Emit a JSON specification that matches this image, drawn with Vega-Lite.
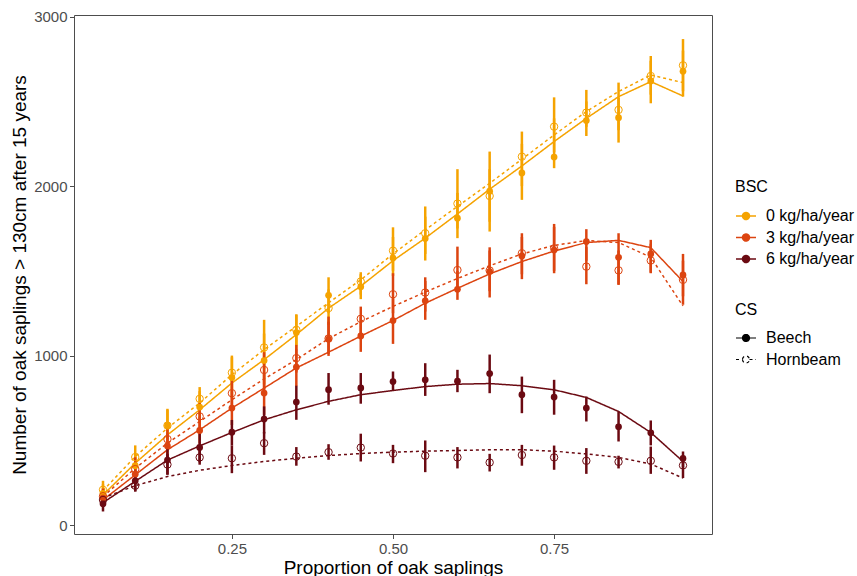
{
  "$schema": "https://vega.github.io/schema/vega-lite/v6.json",
  "width": 638,
  "height": 519,
  "autosize": {"type": "none"},
  "padding": {"left": 74, "top": 15, "right": 145, "bottom": 42},
  "background": "white",
  "config": {
    "font": "Liberation Sans",
    "view": {"stroke": "#4d4d4d", "strokeWidth": 1},
    "axis": {"grid": false, "domain": false, "tickColor": "#4d4d4d", "tickSize": 4.5, "labelColor": "#4d4d4d", "labelFontSize": 15, "titleFontSize": 19, "titleFontWeight": "normal", "titleColor": "black", "labelPadding": 2.5},
    "legend": {"labelFontSize": 16, "titleFontSize": 16, "titleFontWeight": "normal", "labelColor": "black", "titleColor": "black", "titlePadding": 10, "rowPadding": 2.5, "labelOffset": 9}
  },
  "datasets": {
    "d": [
      {"x":0.05,"BSC":"0 kg/ha/year","CS":"Beech","mean":187,"lo":140,"hi":240,"fit":177},
      {"x":0.10,"BSC":"0 kg/ha/year","CS":"Beech","mean":350,"lo":290,"hi":420,"fit":365},
      {"x":0.15,"BSC":"0 kg/ha/year","CS":"Beech","mean":587,"lo":500,"hi":680,"fit":532},
      {"x":0.20,"BSC":"0 kg/ha/year","CS":"Beech","mean":696,"lo":610,"hi":790,"fit":680},
      {"x":0.25,"BSC":"0 kg/ha/year","CS":"Beech","mean":870,"lo":750,"hi":990,"fit":838},
      {"x":0.30,"BSC":"0 kg/ha/year","CS":"Beech","mean":971,"lo":830,"hi":1130,"fit":976},
      {"x":0.35,"BSC":"0 kg/ha/year","CS":"Beech","mean":1136,"lo":1040,"hi":1244,"fit":1124},
      {"x":0.40,"BSC":"0 kg/ha/year","CS":"Beech","mean":1356,"lo":1250,"hi":1462,"fit":1280},
      {"x":0.45,"BSC":"0 kg/ha/year","CS":"Beech","mean":1406,"lo":1333,"hi":1480,"fit":1410},
      {"x":0.50,"BSC":"0 kg/ha/year","CS":"Beech","mean":1576,"lo":1470,"hi":1700,"fit":1560},
      {"x":0.55,"BSC":"0 kg/ha/year","CS":"Beech","mean":1691,"lo":1561,"hi":1820,"fit":1693},
      {"x":0.60,"BSC":"0 kg/ha/year","CS":"Beech","mean":1811,"lo":1693,"hi":1960,"fit":1836},
      {"x":0.65,"BSC":"0 kg/ha/year","CS":"Beech","mean":1970,"lo":1790,"hi":2204,"fit":1982},
      {"x":0.70,"BSC":"0 kg/ha/year","CS":"Beech","mean":2078,"lo":1919,"hi":2250,"fit":2119},
      {"x":0.75,"BSC":"0 kg/ha/year","CS":"Beech","mean":2172,"lo":2106,"hi":2400,"fit":2263},
      {"x":0.80,"BSC":"0 kg/ha/year","CS":"Beech","mean":2387,"lo":2296,"hi":2500,"fit":2400},
      {"x":0.85,"BSC":"0 kg/ha/year","CS":"Beech","mean":2404,"lo":2257,"hi":2520,"fit":2528},
      {"x":0.90,"BSC":"0 kg/ha/year","CS":"Beech","mean":2621,"lo":2489,"hi":2740,"fit":2617},
      {"x":0.95,"BSC":"0 kg/ha/year","CS":"Beech","mean":2678,"lo":2528,"hi":2800,"fit":2532},
      {"x":0.05,"BSC":"0 kg/ha/year","CS":"Hornbeam","mean":208,"lo":150,"hi":261,"fit":203},
      {"x":0.10,"BSC":"0 kg/ha/year","CS":"Hornbeam","mean":401,"lo":320,"hi":470,"fit":404},
      {"x":0.15,"BSC":"0 kg/ha/year","CS":"Hornbeam","mean":587,"lo":510,"hi":686,"fit":572},
      {"x":0.20,"BSC":"0 kg/ha/year","CS":"Hornbeam","mean":745,"lo":650,"hi":814,"fit":720},
      {"x":0.25,"BSC":"0 kg/ha/year","CS":"Hornbeam","mean":899,"lo":790,"hi":1000,"fit":887},
      {"x":0.30,"BSC":"0 kg/ha/year","CS":"Hornbeam","mean":1048,"lo":920,"hi":1211,"fit":1035},
      {"x":0.35,"BSC":"0 kg/ha/year","CS":"Hornbeam","mean":1152,"lo":1060,"hi":1240,"fit":1173},
      {"x":0.40,"BSC":"0 kg/ha/year","CS":"Hornbeam","mean":1280,"lo":1181,"hi":1390,"fit":1311},
      {"x":0.45,"BSC":"0 kg/ha/year","CS":"Hornbeam","mean":1437,"lo":1360,"hi":1492,"fit":1447},
      {"x":0.50,"BSC":"0 kg/ha/year","CS":"Hornbeam","mean":1619,"lo":1500,"hi":1757,"fit":1600},
      {"x":0.55,"BSC":"0 kg/ha/year","CS":"Hornbeam","mean":1722,"lo":1600,"hi":1880,"fit":1742},
      {"x":0.60,"BSC":"0 kg/ha/year","CS":"Hornbeam","mean":1897,"lo":1750,"hi":2100,"fit":1880},
      {"x":0.65,"BSC":"0 kg/ha/year","CS":"Hornbeam","mean":1942,"lo":1732,"hi":2100,"fit":2017},
      {"x":0.70,"BSC":"0 kg/ha/year","CS":"Hornbeam","mean":2174,"lo":2000,"hi":2322,"fit":2159},
      {"x":0.75,"BSC":"0 kg/ha/year","CS":"Hornbeam","mean":2351,"lo":2200,"hi":2524,"fit":2302},
      {"x":0.80,"BSC":"0 kg/ha/year","CS":"Hornbeam","mean":2434,"lo":2350,"hi":2568,"fit":2440},
      {"x":0.85,"BSC":"0 kg/ha/year","CS":"Hornbeam","mean":2450,"lo":2330,"hi":2611,"fit":2558},
      {"x":0.90,"BSC":"0 kg/ha/year","CS":"Hornbeam","mean":2650,"lo":2540,"hi":2768,"fit":2656},
      {"x":0.95,"BSC":"0 kg/ha/year","CS":"Hornbeam","mean":2713,"lo":2560,"hi":2868,"fit":2611},
      {"x":0.05,"BSC":"3 kg/ha/year","CS":"Beech","mean":160,"lo":120,"hi":200,"fit":148},
      {"x":0.10,"BSC":"3 kg/ha/year","CS":"Beech","mean":300,"lo":240,"hi":360,"fit":296},
      {"x":0.15,"BSC":"3 kg/ha/year","CS":"Beech","mean":467,"lo":400,"hi":540,"fit":444},
      {"x":0.20,"BSC":"3 kg/ha/year","CS":"Beech","mean":558,"lo":480,"hi":640,"fit":562},
      {"x":0.25,"BSC":"3 kg/ha/year","CS":"Beech","mean":690,"lo":590,"hi":790,"fit":690},
      {"x":0.30,"BSC":"3 kg/ha/year","CS":"Beech","mean":779,"lo":650,"hi":900,"fit":808},
      {"x":0.35,"BSC":"3 kg/ha/year","CS":"Beech","mean":932,"lo":820,"hi":1040,"fit":927},
      {"x":0.40,"BSC":"3 kg/ha/year","CS":"Beech","mean":1097,"lo":998,"hi":1200,"fit":1020},
      {"x":0.45,"BSC":"3 kg/ha/year","CS":"Beech","mean":1116,"lo":1022,"hi":1230,"fit":1115},
      {"x":0.50,"BSC":"3 kg/ha/year","CS":"Beech","mean":1207,"lo":1069,"hi":1340,"fit":1207},
      {"x":0.55,"BSC":"3 kg/ha/year","CS":"Beech","mean":1323,"lo":1211,"hi":1440,"fit":1309},
      {"x":0.60,"BSC":"3 kg/ha/year","CS":"Beech","mean":1391,"lo":1329,"hi":1500,"fit":1397},
      {"x":0.65,"BSC":"3 kg/ha/year","CS":"Beech","mean":1496,"lo":1343,"hi":1639,"fit":1482},
      {"x":0.70,"BSC":"3 kg/ha/year","CS":"Beech","mean":1588,"lo":1451,"hi":1722,"fit":1555},
      {"x":0.75,"BSC":"3 kg/ha/year","CS":"Beech","mean":1623,"lo":1486,"hi":1777,"fit":1617},
      {"x":0.80,"BSC":"3 kg/ha/year","CS":"Beech","mean":1673,"lo":1560,"hi":1746,"fit":1667},
      {"x":0.85,"BSC":"3 kg/ha/year","CS":"Beech","mean":1580,"lo":1417,"hi":1722,"fit":1680},
      {"x":0.90,"BSC":"3 kg/ha/year","CS":"Beech","mean":1600,"lo":1486,"hi":1683,"fit":1637},
      {"x":0.95,"BSC":"3 kg/ha/year","CS":"Beech","mean":1476,"lo":1350,"hi":1600,"fit":1437},
      {"x":0.05,"BSC":"3 kg/ha/year","CS":"Hornbeam","mean":170,"lo":130,"hi":215,"fit":168},
      {"x":0.10,"BSC":"3 kg/ha/year","CS":"Hornbeam","mean":330,"lo":260,"hi":400,"fit":335},
      {"x":0.15,"BSC":"3 kg/ha/year","CS":"Hornbeam","mean":507,"lo":440,"hi":580,"fit":483},
      {"x":0.20,"BSC":"3 kg/ha/year","CS":"Hornbeam","mean":641,"lo":560,"hi":720,"fit":611},
      {"x":0.25,"BSC":"3 kg/ha/year","CS":"Hornbeam","mean":778,"lo":690,"hi":870,"fit":739},
      {"x":0.30,"BSC":"3 kg/ha/year","CS":"Hornbeam","mean":915,"lo":800,"hi":1020,"fit":862},
      {"x":0.35,"BSC":"3 kg/ha/year","CS":"Hornbeam","mean":985,"lo":900,"hi":1063,"fit":976},
      {"x":0.40,"BSC":"3 kg/ha/year","CS":"Hornbeam","mean":1101,"lo":1010,"hi":1230,"fit":1100},
      {"x":0.45,"BSC":"3 kg/ha/year","CS":"Hornbeam","mean":1217,"lo":1120,"hi":1289,"fit":1200},
      {"x":0.50,"BSC":"3 kg/ha/year","CS":"Hornbeam","mean":1362,"lo":1250,"hi":1486,"fit":1290},
      {"x":0.55,"BSC":"3 kg/ha/year","CS":"Hornbeam","mean":1372,"lo":1260,"hi":1462,"fit":1375},
      {"x":0.60,"BSC":"3 kg/ha/year","CS":"Hornbeam","mean":1505,"lo":1400,"hi":1643,"fit":1455},
      {"x":0.65,"BSC":"3 kg/ha/year","CS":"Hornbeam","mean":1502,"lo":1380,"hi":1620,"fit":1530},
      {"x":0.70,"BSC":"3 kg/ha/year","CS":"Hornbeam","mean":1604,"lo":1480,"hi":1700,"fit":1600},
      {"x":0.75,"BSC":"3 kg/ha/year","CS":"Hornbeam","mean":1633,"lo":1500,"hi":1760,"fit":1650},
      {"x":0.80,"BSC":"3 kg/ha/year","CS":"Hornbeam","mean":1525,"lo":1421,"hi":1640,"fit":1679},
      {"x":0.85,"BSC":"3 kg/ha/year","CS":"Hornbeam","mean":1503,"lo":1420,"hi":1620,"fit":1667},
      {"x":0.90,"BSC":"3 kg/ha/year","CS":"Hornbeam","mean":1561,"lo":1490,"hi":1660,"fit":1580},
      {"x":0.95,"BSC":"3 kg/ha/year","CS":"Hornbeam","mean":1447,"lo":1300,"hi":1560,"fit":1293},
      {"x":0.05,"BSC":"6 kg/ha/year","CS":"Beech","mean":126,"lo":80,"hi":170,"fit":132},
      {"x":0.10,"BSC":"6 kg/ha/year","CS":"Beech","mean":261,"lo":198,"hi":320,"fit":258},
      {"x":0.15,"BSC":"6 kg/ha/year","CS":"Beech","mean":383,"lo":297,"hi":460,"fit":383},
      {"x":0.20,"BSC":"6 kg/ha/year","CS":"Beech","mean":458,"lo":370,"hi":540,"fit":467},
      {"x":0.25,"BSC":"6 kg/ha/year","CS":"Beech","mean":548,"lo":470,"hi":620,"fit":546},
      {"x":0.30,"BSC":"6 kg/ha/year","CS":"Beech","mean":625,"lo":540,"hi":700,"fit":621},
      {"x":0.35,"BSC":"6 kg/ha/year","CS":"Beech","mean":726,"lo":621,"hi":822,"fit":680},
      {"x":0.40,"BSC":"6 kg/ha/year","CS":"Beech","mean":799,"lo":710,"hi":897,"fit":730},
      {"x":0.45,"BSC":"6 kg/ha/year","CS":"Beech","mean":809,"lo":716,"hi":897,"fit":769},
      {"x":0.50,"BSC":"6 kg/ha/year","CS":"Beech","mean":847,"lo":792,"hi":906,"fit":794},
      {"x":0.55,"BSC":"6 kg/ha/year","CS":"Beech","mean":857,"lo":762,"hi":955,"fit":817},
      {"x":0.60,"BSC":"6 kg/ha/year","CS":"Beech","mean":849,"lo":784,"hi":916,"fit":831},
      {"x":0.65,"BSC":"6 kg/ha/year","CS":"Beech","mean":894,"lo":778,"hi":1006,"fit":835},
      {"x":0.70,"BSC":"6 kg/ha/year","CS":"Beech","mean":769,"lo":660,"hi":876,"fit":822},
      {"x":0.75,"BSC":"6 kg/ha/year","CS":"Beech","mean":755,"lo":651,"hi":857,"fit":798},
      {"x":0.80,"BSC":"6 kg/ha/year","CS":"Beech","mean":690,"lo":611,"hi":758,"fit":753},
      {"x":0.85,"BSC":"6 kg/ha/year","CS":"Beech","mean":580,"lo":493,"hi":670,"fit":670},
      {"x":0.90,"BSC":"6 kg/ha/year","CS":"Beech","mean":544,"lo":470,"hi":617,"fit":546},
      {"x":0.95,"BSC":"6 kg/ha/year","CS":"Beech","mean":393,"lo":340,"hi":434,"fit":375},
      {"x":0.05,"BSC":"6 kg/ha/year","CS":"Hornbeam","mean":148,"lo":110,"hi":185,"fit":160},
      {"x":0.10,"BSC":"6 kg/ha/year","CS":"Hornbeam","mean":232,"lo":198,"hi":270,"fit":232},
      {"x":0.15,"BSC":"6 kg/ha/year","CS":"Hornbeam","mean":357,"lo":297,"hi":420,"fit":286},
      {"x":0.20,"BSC":"6 kg/ha/year","CS":"Hornbeam","mean":399,"lo":356,"hi":450,"fit":323},
      {"x":0.25,"BSC":"6 kg/ha/year","CS":"Hornbeam","mean":394,"lo":306,"hi":470,"fit":351},
      {"x":0.30,"BSC":"6 kg/ha/year","CS":"Hornbeam","mean":483,"lo":414,"hi":550,"fit":375},
      {"x":0.35,"BSC":"6 kg/ha/year","CS":"Hornbeam","mean":404,"lo":350,"hi":460,"fit":394},
      {"x":0.40,"BSC":"6 kg/ha/year","CS":"Hornbeam","mean":430,"lo":385,"hi":477,"fit":410},
      {"x":0.45,"BSC":"6 kg/ha/year","CS":"Hornbeam","mean":457,"lo":375,"hi":539,"fit":422},
      {"x":0.50,"BSC":"6 kg/ha/year","CS":"Hornbeam","mean":422,"lo":365,"hi":473,"fit":430},
      {"x":0.55,"BSC":"6 kg/ha/year","CS":"Hornbeam","mean":409,"lo":312,"hi":499,"fit":436},
      {"x":0.60,"BSC":"6 kg/ha/year","CS":"Hornbeam","mean":399,"lo":334,"hi":460,"fit":440},
      {"x":0.65,"BSC":"6 kg/ha/year","CS":"Hornbeam","mean":369,"lo":316,"hi":420,"fit":444},
      {"x":0.70,"BSC":"6 kg/ha/year","CS":"Hornbeam","mean":413,"lo":350,"hi":473,"fit":444},
      {"x":0.75,"BSC":"6 kg/ha/year","CS":"Hornbeam","mean":399,"lo":326,"hi":469,"fit":436},
      {"x":0.80,"BSC":"6 kg/ha/year","CS":"Hornbeam","mean":379,"lo":302,"hi":454,"fit":420},
      {"x":0.85,"BSC":"6 kg/ha/year","CS":"Hornbeam","mean":373,"lo":334,"hi":409,"fit":399},
      {"x":0.90,"BSC":"6 kg/ha/year","CS":"Hornbeam","mean":379,"lo":302,"hi":463,"fit":360},
      {"x":0.95,"BSC":"6 kg/ha/year","CS":"Hornbeam","mean":352,"lo":277,"hi":385,"fit":277}
    ]
  },
  "data": {"name": "d"},
  "encoding": {
    "x": {"field": "x", "type": "quantitative", "scale": {"domain": [0.005, 0.995], "nice": false, "zero": false},
      "axis": {"values": [0.25, 0.5, 0.75], "format": ".2f", "title": "Proportion of oak saplings", "titlePadding": 2}},
    "color": {"field": "BSC", "type": "nominal",
      "scale": {"domain": ["0 kg/ha/year", "3 kg/ha/year", "6 kg/ha/year"], "range": ["#F5A300", "#DC4410", "#6B0A12"]},
      "legend": {"title": "BSC", "orient": "none", "legendX": 661, "legendY": 164, "titlePadding": 10,
        "symbolType": "M-1,0H-0.35M0.35,0H1M-0.35,0A0.35,0.35 0 1,0 0.35,0A0.35,0.35 0 1,0 -0.35,0Z",
        "symbolSize": 400, "symbolStrokeWidth": 1.5,
        "encode": {"symbols": {"update": {"fill": {"scale": "color", "field": "value"}, "stroke": {"scale": "color", "field": "value"}, "opacity": {"value": 1}, "strokeDash": {"value": [1, 0]}}}}}}
  },
  "layer": [
    {
      "mark": {"type": "line", "strokeWidth": 1.5},
      "encoding": {
        "y": {"field": "fit", "type": "quantitative", "scale": {"domain": [-53, 3010], "nice": false, "zero": false},
          "axis": {"values": [0, 1000, 2000, 3000], "format": "d", "title": "Number of oak saplings > 130cm after 15 years", "titlePadding": 4}},
        "strokeDash": {"field": "CS", "type": "nominal",
          "scale": {"domain": ["Beech", "Hornbeam"], "range": [[1, 0], [3, 3]]},
          "legend": {"title": "CS", "orient": "none", "legendX": 661, "legendY": 287, "titlePadding": 9,
            "symbolType": "M-1,0H-0.35M0.35,0H1M-0.35,0A0.35,0.35 0 1,0 0.35,0A0.35,0.35 0 1,0 -0.35,0Z",
            "symbolSize": 400, "symbolStrokeWidth": 1.2, "symbolStrokeColor": "black",
            "encode": {"symbols": {"update": {"fill": {"signal": "datum.value === 'Beech' ? 'black' : 'white'"}, "stroke": {"value": "black"}, "opacity": {"value": 1}}}}}}
      }
    },
    {
      "mark": {"type": "rule", "strokeWidth": 2.5},
      "encoding": {
        "y": {"field": "lo", "type": "quantitative"},
        "y2": {"field": "hi"}
      }
    },
    {
      "transform": [{"filter": "datum.CS === 'Beech'"}],
      "mark": {"type": "point", "filled": true, "size": 45, "opacity": 1, "shape": "circle"},
      "encoding": {"y": {"field": "mean", "type": "quantitative"}}
    },
    {
      "transform": [{"filter": "datum.CS === 'Hornbeam'"}],
      "mark": {"type": "point", "filled": false, "size": 55, "opacity": 1, "strokeWidth": 1, "shape": "circle"},
      "encoding": {"y": {"field": "mean", "type": "quantitative"}}
    }
  ]
}
